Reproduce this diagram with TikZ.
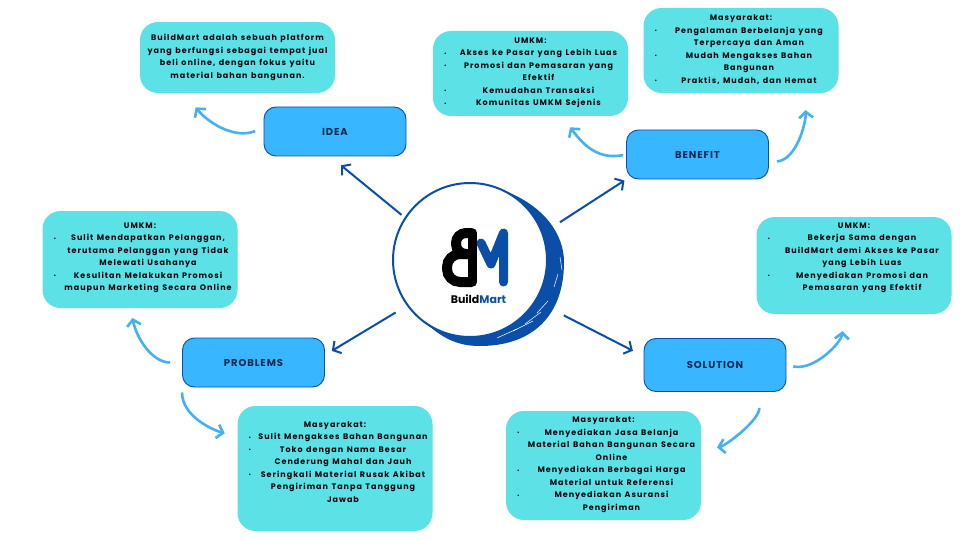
\documentclass[tikz,border=0pt]{standalone}
\usepackage{fontspec}
\setmainfont{Poppins}[LetterSpace=12.5,WordSpace=1.3]
\usetikzlibrary{arrows.meta}
\definecolor{tealbox}{HTML}{5CE1E6}
\definecolor{skybox}{HTML}{38B6FF}
\definecolor{hubblue}{HTML}{0B4EA8}
\definecolor{flowblue}{HTML}{45B0F2}
\definecolor{inkblue}{HTML}{0A2A50}
\newcommand{\bulletline}[1]{\hbox to 173pt{\rlap{\raisebox{.6pt}{\fontsize{5}{5}\selectfont •}}\hskip 16pt\makebox[157pt]{#1}}}
\newcommand{\plainline}[1]{\hbox to 173pt{\hskip 16pt\makebox[157pt]{#1}}}
\tikzset{
  note/.style={fill=tealbox,rounded corners=18pt,minimum width=195pt,inner sep=0pt},
  notetext/.style={align=center,inner sep=0pt,text=black!85!inkblue,font=\fontsize{8}{12.5}\selectfont\bfseries},
  topic/.style={draw=hubblue,line width=.9pt,fill=skybox,rounded corners=12pt,minimum width=142pt,text=inkblue,font=\fontsize{10}{10}\selectfont\bfseries\addfontfeature{LetterSpace=9}},
  spoke/.style={hubblue,line width=2pt,-{Straight Barb[length=6pt,width=14pt]}},
  flow/.style={flowblue,line width=2.6pt,-{Straight Barb[length=6pt,width=14pt]}}
}
\begin{document}
\begin{tikzpicture}[x=1pt,y=-1pt]
    \useasboundingbox[fill=white] (0,0) rectangle (960,540);
    % crescent behind the hub
    \fill[hubblue] (500,189) .. controls (545,205) and (564,235) .. (564,262) .. controls (564,318) and (530,346) .. (480,346) .. controls (460,346) and (445,340) .. (428,325) -- cycle;
    \node[circle,draw=hubblue,line width=2pt,fill=white,minimum size=154pt,inner sep=0pt,outer sep=0pt] (hub) at (470,260) {};
    \foreach \a/\b/\c/\d in {513/331/533/321,497/338/517/329,537/313/548/301,560/257/562/270,525/324/541/312,554/287/558/274}
      \draw[white,line width=.5pt] (\a,\b) -- (\c,\d);
    % logo
    \draw[black,line width=10pt,rounded corners=10pt] (472,233) -- (456,233) -- (456,254) -- (472,254);
    \draw[black,line width=10pt,rounded corners=13pt] (472,254) -- (447,254) -- (447,282) -- (472,282);
    \draw[black,line width=9.5pt,line cap=round] (472.5,233) -- (472.5,282);
    \draw[hubblue,line width=9pt,line cap=round,line join=round] (481,243) -- (491,264) -- (503.5,233) -- (503.5,282);
    \node[font=\fontsize{11}{12}\selectfont\bfseries,inner sep=0pt] (logo) at (478.5,299) {\addfontfeature{LetterSpace=0}Build\textcolor{hubblue}{Mart}};
    % topics
    \node[topic,minimum height=49pt] (idea) at (335,131.5) {IDEA};
    \node[topic,minimum height=49pt] (ben) at (697.5,154.5) {BENEFIT};
    \node[topic,minimum height=49pt] (prob) at (253.5,362.5) {PROBLEMS};
    \node[topic,minimum height=53pt] (sol) at (715,365) {SOLUTION};
    % notes
    \node[note,minimum height=71pt] (ideabox) at (237.5,57.5) {};
    \node[notetext] (ideatext) at (ideabox) {BuildMart adalah sebuah platform\\yang berfungsi sebagai tempat jual\\beli online, dengan fokus yaitu\\material bahan bangunan.};
    \node[note,minimum height=85pt] (benu) at (530.5,73.5) {};
    \node[notetext] (benutext) at (530.5,73) {UMKM:\\\bulletline{Akses ke Pasar yang Lebih Luas}\\\bulletline{Promosi dan Pemasaran yang}\\\plainline{Efektif}\\\bulletline{Kemudahan Transaksi}\\\bulletline{Komunitas UMKM Sejenis}};
    \node[note,minimum height=85pt] (benm) at (741,50.5) {};
    \node[notetext] (benmtext) at (741,49.5) {Masyarakat:\\\bulletline{Pengalaman Berbelanja yang}\\\plainline{Terpercaya dan Aman}\\\bulletline{Mudah Mengakses Bahan}\\\plainline{Bangunan}\\\bulletline{Praktis, Mudah, dan Hemat}};
    \node[note,minimum height=97pt] (probu) at (140,259.5) {};
    \node[notetext] (probutext) at (140,258) {UMKM:\\\bulletline{Sulit Mendapatkan Pelanggan,}\\\plainline{terutama Pelanggan yang Tidak}\\\plainline{Melewati Usahanya}\\\bulletline{Kesulitan Melakukan Promosi}\\\plainline{maupun Marketing Secara Online}};
    \node[note,minimum height=125pt] (probm) at (335,468.5) {};
    \node[notetext] (probmtext) at (335,462) {Masyarakat:\\\bulletline{Sulit Mengakses Bahan Bangunan}\\\bulletline{Toko dengan Nama Besar}\\\plainline{Cenderung Mahal dan Jauh}\\\bulletline{Seringkali Material Rusak Akibat}\\\plainline{Pengiriman Tanpa Tanggung}\\\plainline{Jawab}};
    \node[note,minimum height=109pt] (solm) at (603.5,465.5) {};
    \node[notetext] (solmtext) at (603.5,464.75) {Masyarakat:\\\bulletline{Menyediakan Jasa Belanja}\\\plainline{Material Bahan Bangunan Secara}\\\plainline{Online}\\\bulletline{Menyediakan Berbagai Harga}\\\plainline{Material untuk Referensi}\\\bulletline{Menyediakan Asuransi}\\\plainline{Pengiriman}};
    \node[note,minimum height=97pt] (solu) at (854,265.5) {};
    \node[notetext] (solutext) at (854,258) {UMKM:\\\bulletline{Bekerja Sama dengan}\\\plainline{BuildMart demi Akses ke Pasar}\\\plainline{yang Lebih Luas}\\\bulletline{Menyediakan Promosi dan}\\\plainline{Pemasaran yang Efektif}};
    % spokes from the hub
    \draw[spoke,shorten <=5pt,shorten >=14pt] (hub.147) -- (idea.-101);
    \draw[spoke,shorten <=21pt,shorten >=2pt] (hub.20) -- (ben.south west);
    \draw[spoke,shorten <=14pt,shorten >=8pt] (hub.216) -- (prob.6);
    \draw[spoke,shorten <=32pt,shorten >=12pt] (hub.328) -- (sol.173.5);
    % curved arrows to the notes
    \draw[flow,shorten <=9pt,shorten >=18pt] (idea.177) .. controls +(-30,12) and +(22,28) .. (ideabox.-146);
    \draw[flow,shorten <=3pt,shorten >=14pt] (ben.west) .. controls +(-30,6) and +(20,26) .. (benu.-54.3);
    \draw[flow,shorten <=8pt,shorten >=17pt] (ben.-6) .. controls +(28,-2) and +(2,28) .. (benm.-34);
    \draw[flow,shorten <=12pt,shorten >=10pt] (prob.west) .. controls +(-30,0) and +(6,30) .. (probu.-101.6);
    \draw[flow,shorten <=5pt,shorten >=13pt] (prob.south west) .. controls +(0,30) and +(-22,-6) .. (probm.162.6);
    \draw[flow,shorten <=16pt,shorten >=16pt] (sol.-32.7) .. controls +(2,28) and +(24,-4) .. (solm.9);
    \draw[flow,shorten <=7pt,shorten >=17pt] (sol.east) .. controls +(28,6) and +(-2,28) .. (solu.-102.8);
  \end{tikzpicture}
\end{document}
